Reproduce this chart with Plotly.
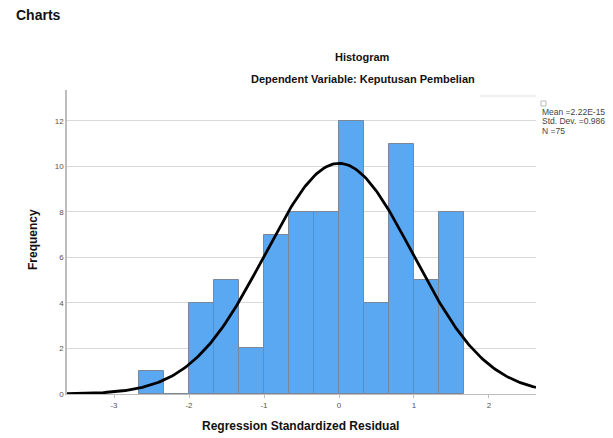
import numpy as np
import plotly.graph_objects as go

# Data
bin_edges = [-2.667, -2.333, -2.0, -1.667, -1.333, -1.0, -0.667, -0.333,
             0.0, 0.333, 0.667, 1.0, 1.333, 1.667]
counts = [1, 0, 4, 5, 2, 7, 8, 8, 12, 4, 11, 5, 8]
mean_val = 2.22e-15
std_dev = 0.986
n_obs = 75
x_ticks = [-3, -2, -1, 0, 1, 2]
y_ticks = [0, 2, 4, 6, 8, 10, 12]
legend_lines = ["Mean =2.22E-15", "Std. Dev. =0.986", "N =75"]

centers = [(a + b) / 2 for a, b in zip(bin_edges[:-1], bin_edges[1:])]
widths = [b - a for a, b in zip(bin_edges[:-1], bin_edges[1:])]
bw = widths[0]

x_range = [-3.627, 2.627]
xc = np.linspace(x_range[0], x_range[1], 300)
yc = n_obs * bw * np.exp(-0.5 * ((xc - mean_val) / std_dev) ** 2) / (std_dev * np.sqrt(2 * np.pi))

W, H = 613, 438
L, R, T, B = 67, 536, 90, 394  # plot area in pixels

fig = go.Figure()
fig.add_trace(go.Bar(
    x=centers, y=counts, width=widths,
    marker=dict(color="#5ba8f2", line=dict(color="#7a879b", width=1)),
    hoverinfo="x+y", showlegend=False,
))
fig.add_trace(go.Scatter(
    x=xc, y=yc, mode="lines",
    line=dict(color="black", width=2.8),
    showlegend=False, hoverinfo="skip",
))

font_family = "Liberation Sans, Arial, sans-serif"
fig.update_layout(
    width=W, height=H,
    margin=dict(l=L, r=W - R, t=T, b=H - B),
    paper_bgcolor="white", plot_bgcolor="white",
    font=dict(family=font_family, color="#333"),
    bargap=0,
    xaxis=dict(
        range=x_range, tickvals=x_ticks, ticktext=[str(v) for v in x_ticks],
        showgrid=False, zeroline=False, showline=True, linecolor="#bdbdbd", linewidth=1,
        ticks="outside", ticklen=3, tickcolor="#bdbdbd",
        tickfont=dict(size=8, color="#555"),
    ),
    yaxis=dict(
        range=[0, 13.36], tickvals=y_ticks, ticktext=[str(v) for v in y_ticks],
        showgrid=True, gridcolor="#d9d9d9", gridwidth=1,
        zeroline=False, showline=True, linecolor="#bdbdbd", linewidth=1.5,
        ticks="", tickfont=dict(size=8, color="#555"),
    ),
)


def px(xp):
    return (xp - L) / (R - L)


def py(yp):
    return (B - yp) / (B - T)


annotations = [
    dict(text="<b>Charts</b>", x=px(14), y=py(15), xanchor="left", size=14),
    dict(text="<b>Histogram</b>", x=px(362), y=py(57), xanchor="center", size=11),
    dict(text="<b>Dependent Variable: Keputusan Pembelian</b>", x=px(363), y=py(79),
         xanchor="center", size=11),
    dict(text="<b>Regression Standardized Residual</b>", x=px(300), y=py(426),
         xanchor="center", size=12),
    dict(text="<b>Frequency</b>", x=px(33), y=py(240), xanchor="center", size=12,
         textangle=-90),
]
ann_out = []
for a in annotations:
    size = a.pop("size")
    ann_out.append(dict(xref="paper", yref="paper", yanchor="middle", showarrow=False,
                        font=dict(size=size, color="#111", family=font_family), **a))
for i, t in enumerate(legend_lines):
    ann_out.append(dict(
        text=t, x=px(540), y=py(112 + 9.5 * i), xref="paper", yref="paper",
        xanchor="left", yanchor="middle", showarrow=False,
        font=dict(size=8.5, color="#444", family=font_family)))
fig.update_layout(annotations=ann_out)

fig.add_shape(type="rect", xref="paper", yref="paper",
              x0=px(541), x1=px(546), y0=py(106), y1=py(101),
              line=dict(color="#bbbbbb", width=1), fillcolor="white")
fig.add_shape(type="line", xref="paper", yref="paper",
              x0=px(480), x1=px(536), y0=py(96), y1=py(96),
              line=dict(color="#dddddd", width=1))

fig.write_html("out.html", config={"displayModeBar": False},
               post_script="document.body.style.margin='0';")
